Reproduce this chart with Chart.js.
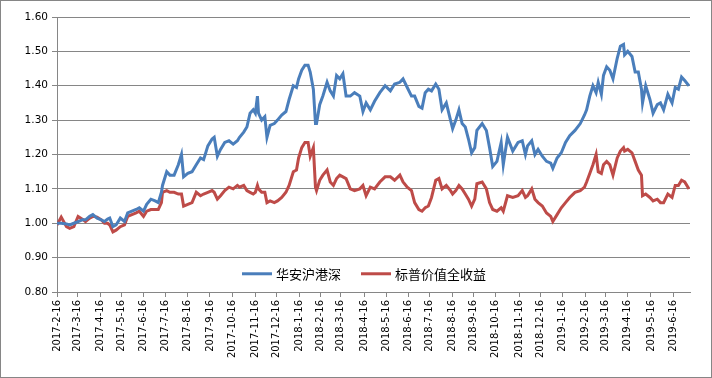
<!DOCTYPE html>
<html>
<head>
<meta charset="utf-8">
<script src="https://cdn.jsdelivr.net/npm/chart.js@4/dist/chart.umd.min.js"></script>
<style>
  body { margin: 0; background: #fff; }
  #wrap { width: 712px; height: 378px; box-sizing: border-box; border: 1px solid #868686; }
  canvas { display: block; }
</style>
</head>
<body>
<div id="wrap"><canvas id="chart" width="710" height="376"></canvas></div>
<script>
// trading-day index of each sampled point
const days = [0, 4, 9, 12, 16, 20, 24, 27, 31, 34, 38, 42, 45, 48, 50, 53, 56, 60, 64, 67,
    71, 75, 78, 82, 85, 89, 93, 96, 99, 100, 104, 107, 111, 115, 118, 120, 124, 128, 132, 136,
    139, 143, 147, 149, 152, 155, 159, 163, 167, 171, 173, 177, 180, 183, 186, 188, 190, 191, 194, 197,
    199, 202, 206, 209, 213, 217, 220, 224, 227, 229, 232, 235, 238, 240, 243, 245, 246, 249, 252, 256,
    259, 262, 265, 268, 271, 274, 278, 282, 287, 290, 293, 297, 301, 306, 311, 316, 320, 325, 328, 332,
    336, 339, 343, 346, 349, 352, 355, 359, 362, 365, 369, 373, 375, 378, 381, 384, 387, 390, 393, 396,
    398, 403, 407, 410, 413, 417, 421, 423, 427, 432, 437, 441, 444, 446, 450, 453, 456, 460, 464, 468,
    470, 474, 478, 482, 486, 491, 496, 500, 502, 505, 508, 511, 513, 516, 518, 521, 524, 527, 531, 534,
    537, 538, 541, 545, 548, 551, 554, 555, 558, 562, 565, 569, 572, 575, 579, 583, 586, 589, 592, 595, 599];

const huaan = [1.00, 1.00, 0.998, 0.995, 1.00, 1.005, 1.01, 1.01, 1.02, 1.025, 1.015, 1.01, 1.005, 1.012, 1.015, 0.99, 0.995, 1.015, 1.005, 1.03,
    1.035, 1.04, 1.045, 1.035, 1.055, 1.07, 1.065, 1.06, 1.09, 1.11, 1.15, 1.14, 1.14, 1.17, 1.20, 1.135, 1.145, 1.15, 1.17, 1.19,
    1.185, 1.225, 1.245, 1.25, 1.195, 1.215, 1.235, 1.24, 1.23, 1.24, 1.25, 1.265, 1.28, 1.32, 1.33, 1.32, 1.37, 1.32, 1.30, 1.31,
    1.25, 1.285, 1.29, 1.30, 1.315, 1.325, 1.36, 1.40, 1.395, 1.42, 1.445, 1.46, 1.46, 1.44, 1.39, 1.29, 1.29, 1.345, 1.37, 1.41,
    1.385, 1.37, 1.43, 1.42, 1.435, 1.37, 1.37, 1.38, 1.37, 1.325, 1.35, 1.33, 1.355, 1.38, 1.40, 1.385, 1.405, 1.41, 1.42, 1.395,
    1.37, 1.37, 1.34, 1.335, 1.38, 1.39, 1.385, 1.405, 1.39, 1.33, 1.35, 1.30, 1.275, 1.30, 1.33, 1.29, 1.28, 1.245, 1.205, 1.22,
    1.27, 1.29, 1.27, 1.22, 1.165, 1.18, 1.235, 1.17, 1.25, 1.21, 1.235, 1.24, 1.20, 1.225, 1.24, 1.20, 1.215, 1.195, 1.18, 1.175,
    1.16, 1.19, 1.205, 1.235, 1.255, 1.27, 1.29, 1.315, 1.33, 1.37, 1.40, 1.38, 1.41, 1.375, 1.43, 1.455, 1.445, 1.42, 1.48, 1.515,
    1.52, 1.49, 1.50, 1.485, 1.44, 1.44, 1.39, 1.35, 1.40, 1.36, 1.32, 1.345, 1.35, 1.33, 1.375, 1.35, 1.395, 1.39, 1.425, 1.415, 1.40];

const sp = [0.995, 1.018, 0.99, 0.985, 0.99, 1.02, 1.012, 1.005, 1.015, 1.02, 1.018, 1.01, 1.00, 1.00, 0.995, 0.975, 0.98, 0.99, 0.995, 1.02,
    1.025, 1.03, 1.035, 1.02, 1.035, 1.04, 1.04, 1.04, 1.06, 1.09, 1.095, 1.09, 1.09, 1.085, 1.085, 1.05, 1.055, 1.06, 1.09, 1.08,
    1.085, 1.09, 1.095, 1.09, 1.07, 1.08, 1.095, 1.105, 1.10, 1.11, 1.105, 1.11, 1.095, 1.09, 1.085, 1.09, 1.11, 1.10, 1.09, 1.09,
    1.06, 1.065, 1.06, 1.065, 1.075, 1.09, 1.11, 1.15, 1.155, 1.19, 1.22, 1.235, 1.235, 1.195, 1.22, 1.105, 1.095, 1.125, 1.14, 1.155,
    1.12, 1.11, 1.13, 1.14, 1.135, 1.13, 1.10, 1.095, 1.10, 1.11, 1.08, 1.105, 1.10, 1.12, 1.135, 1.135, 1.125, 1.14, 1.12, 1.105,
    1.095, 1.06, 1.04, 1.035, 1.045, 1.05, 1.075, 1.125, 1.13, 1.10, 1.11, 1.095, 1.085, 1.095, 1.11, 1.10, 1.085, 1.07, 1.05, 1.07,
    1.115, 1.12, 1.10, 1.06, 1.04, 1.035, 1.045, 1.035, 1.08, 1.075, 1.08, 1.095, 1.075, 1.08, 1.10, 1.07, 1.06, 1.05, 1.03, 1.02,
    1.005, 1.025, 1.045, 1.06, 1.075, 1.09, 1.095, 1.105, 1.12, 1.145, 1.17, 1.20, 1.15, 1.145, 1.17, 1.18, 1.17, 1.14, 1.19, 1.21,
    1.22, 1.21, 1.215, 1.205, 1.18, 1.155, 1.14, 1.08, 1.085, 1.075, 1.065, 1.07, 1.06, 1.06, 1.085, 1.075, 1.11, 1.11, 1.125, 1.12, 1.10];

// monthly tick labels and the trading day each sits on
const tickDays = [0, 19, 41, 61, 82, 103, 124, 145, 166, 188, 208, 230, 250, 269, 291,
    312, 333, 353, 375, 395, 416, 438, 458, 479, 501, 520, 541, 563, 584];
const tickLabels = ['2017-2-16', '2017-3-16', '2017-4-16', '2017-5-16', '2017-6-16', '2017-7-16',
    '2017-8-16', '2017-9-16', '2017-10-16', '2017-11-16', '2017-12-16', '2018-1-16', '2018-2-16',
    '2018-3-16', '2018-4-16', '2018-5-16', '2018-6-16', '2018-7-16', '2018-8-16', '2018-9-16',
    '2018-10-16', '2018-11-16', '2018-12-16', '2019-1-16', '2019-2-16', '2019-3-16', '2019-4-16',
    '2019-5-16', '2019-6-16'];

const seriesNames = ['华安沪港深', '标普价值全收益'];
const seriesColors = ['#4A7EBB', '#BE4B48'];

const gridColor = '#868686';

// legend drawn inside the plot, near the bottom, like the original
const insideLegend = {
    id: 'insideLegend',
    afterDraw(chart) {
        const ctx = chart.ctx;
        const area = chart.chartArea;
        const y = chart.scales.y.getPixelForValue(0.853);
        ctx.save();
        ctx.font = '13px "Noto Sans CJK SC", sans-serif';
        ctx.textBaseline = 'middle';
        const lineLen = 30, gapText = 4, gapItem = 20;
        const widths = seriesNames.map(n => ctx.measureText(n).width);
        let total = 0;
        widths.forEach((w, i) => { total += lineLen + gapText + w + (i ? gapItem : 0); });
        let x = area.left + 307 - total / 2;
        seriesNames.forEach((n, i) => {
            ctx.strokeStyle = seriesColors[i];
            ctx.lineWidth = 3;
            ctx.beginPath();
            ctx.moveTo(x, y);
            ctx.lineTo(x + lineLen, y);
            ctx.stroke();
            ctx.fillStyle = '#000';
            ctx.fillText(n, x + lineLen + gapText, y);
            x += lineLen + gapText + widths[i] + gapItem;
        });
        ctx.restore();
    }
};

new Chart('chart', {
    type: 'line',
    data: {
        datasets: [
            {
                label: seriesNames[0],
                data: days.map((d, i) => ({ x: d, y: huaan[i] })),
                borderColor: seriesColors[0],
                borderWidth: 3,
                pointRadius: 0,
                tension: 0
            },
            {
                label: seriesNames[1],
                data: days.map((d, i) => ({ x: d, y: sp[i] })),
                borderColor: seriesColors[1],
                borderWidth: 3,
                pointRadius: 0,
                tension: 0
            }
        ]
    },
    options: {
        responsive: false,
        animation: false,
        layout: { padding: { top: 16, right: 21, left: 0, bottom: 0 } },
        plugins: {
            legend: { display: false },
            tooltip: { enabled: false }
        },
        scales: {
            x: {
                type: 'linear',
                min: 0,
                max: 600,
                afterBuildTicks: (axis) => { axis.ticks = tickDays.map(v => ({ value: v })); },
                afterFit: (axis) => { axis.height = 85; },
                ticks: {
                    autoSkip: false,
                    minRotation: 90,
                    maxRotation: 90,
                    padding: 3,
                    color: '#000',
                    font: { family: 'DejaVu Sans', size: 10 },
                    callback: (v, i) => tickLabels[i]
                },
                grid: { drawOnChartArea: false, drawTicks: true, tickLength: 5, color: gridColor },
                border: { color: gridColor }
            },
            y: {
                min: 0.8,
                max: 1.6,
                afterFit: (axis) => { axis.width = 56; },
                ticks: {
                    stepSize: 0.1,
                    padding: 4,
                    color: '#000',
                    font: { family: 'DejaVu Sans', size: 10.5 },
                    callback: (v) => v.toFixed(2)
                },
                grid: { color: gridColor, tickLength: 5 },
                border: { color: gridColor }
            }
        }
    },
    plugins: [insideLegend]
});
</script>
</body>
</html>
